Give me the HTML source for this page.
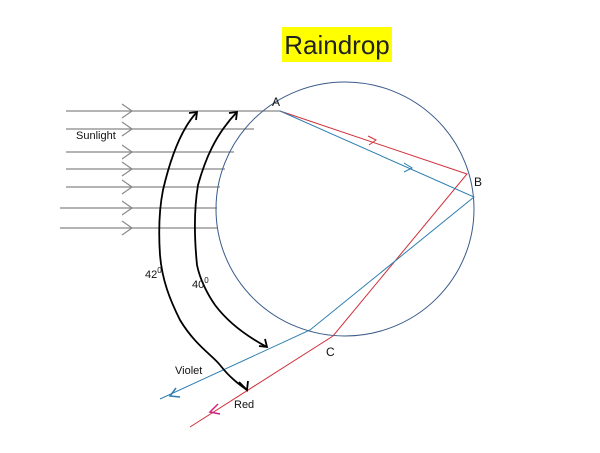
<!DOCTYPE html>
<html><head><style>
body{margin:0;background:#fff;width:600px;height:448px;overflow:hidden;font-family:"Liberation Sans",sans-serif}
</style></head><body>
<svg width="600" height="448" xmlns="http://www.w3.org/2000/svg" font-family="Liberation Sans, sans-serif">
<rect x="282" y="27" width="110" height="35" fill="#ffff00"/>
<text x="337" y="54" font-size="26" text-anchor="middle" fill="#222">Raindrop</text>
<g stroke="#888" stroke-width="1.2" fill="none">
<line x1="66" y1="111" x2="280" y2="111"/>
<line x1="66" y1="129" x2="254" y2="129"/>
<line x1="66" y1="152" x2="234" y2="152"/>
<line x1="66" y1="169" x2="225" y2="169"/>
<line x1="66" y1="187" x2="220" y2="187"/>
<line x1="60" y1="208" x2="217" y2="208"/>
<line x1="60" y1="228" x2="217" y2="228"/>
<polyline points="122,104 132,111 122,118"/>
<polyline points="122,122 132,129 122,136"/>
<polyline points="122,145 132,152 122,159"/>
<polyline points="122,162 132,169 122,176"/>
<polyline points="122,180 132,187 122,194"/>
<polyline points="122,201 132,208 122,215"/>
<polyline points="122,221 132,228 122,235"/>
</g>
<ellipse cx="345" cy="209" rx="129" ry="127" fill="none" stroke="#3a5a8a" stroke-width="1"/>
<g fill="none" stroke-width="1">
<polyline points="280,111 467,174 333,336 190,427" stroke="#d0303a"/>
<polyline points="280,111 474,197 310,330 160,399" stroke="#2e7fb0"/>
<polyline points="368,136 376,140 369,145" stroke="#d0303a"/>
<polyline points="404,163 412,168 404,172" stroke="#2e7fb0"/>
<polyline points="218,404 210,412 220,414" stroke="#d02080" stroke-width="1.5"/>
<polyline points="176,388 170,396 180,397" stroke="#2e7fb0" stroke-width="1.5"/>
</g>
<g fill="none" stroke="#000" stroke-width="1.8">
<path d="M197,112 C180,130 170,160 163,190 C158,215 159,240 160,255 C162,280 170,300 180,320 C195,345 212,355 220,365 C230,378 240,385 247,390"/>
<polyline points="189,113 197,112 196,120"/>
<polyline points="239,382 247,390 248,381"/>
<path d="M237,112 C215,135 205,160 198,185 C193,215 195,245 197,265 C200,280 208,295 215,305 C230,325 250,338 267,347"/>
<polyline points="229,113 237,112 236,120"/>
<polyline points="259,346 267,347 265,339"/>
</g>
<g font-size="11" fill="#111">
<text x="76" y="139">Sunlight</text>
<text x="272" y="106" font-size="12">A</text>
<text x="474" y="186" font-size="12">B</text>
<text x="326" y="356" font-size="12">C</text>
<text x="145" y="278">42<tspan font-size="8" dy="-5">0</tspan></text>
<text x="192" y="288">40<tspan font-size="8" dy="-5">0</tspan></text>
<text x="175" y="374">Violet</text>
<text x="234" y="408">Red</text>
</g>
</svg>
</body></html>
